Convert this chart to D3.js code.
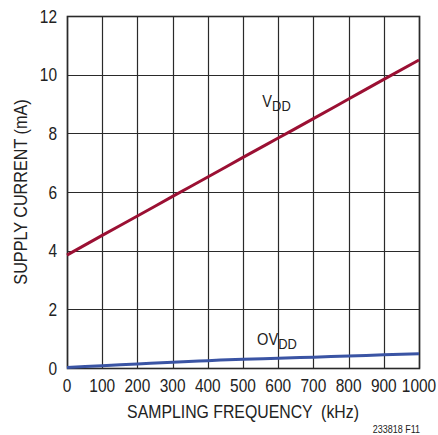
<!DOCTYPE html>
<html>
<head>
<meta charset="utf-8">
<script src="https://cdn.jsdelivr.net/npm/d3@7"></script>
<style>
  body { margin: 0; background: #fff; }
  text { font-family: "Liberation Sans", Arial, sans-serif; fill: #222; }
</style>
</head>
<body>
<div id="chart"></div>
<script>
// data
var freq = [0, 100, 200, 300, 400, 500, 600, 700, 800, 900, 1000];
var vdd = [3.85, 4.52, 5.18, 5.85, 6.51, 7.18, 7.84, 8.5, 9.17, 9.84, 10.5];
var ovdd = [0.02, 0.08, 0.14, 0.2, 0.25, 0.3, 0.33, 0.37, 0.41, 0.45, 0.49];
var xTicks = [0, 100, 200, 300, 400, 500, 600, 700, 800, 900, 1000];
var yTicks = [0, 2, 4, 6, 8, 10, 12];

var margin = {top: 16, right: 19, bottom: 67, left: 67},
    width = 438 - margin.left - margin.right,
    height = 435 - margin.top - margin.bottom;

// condensed look: regular font squeezed horizontally
var squeeze = 0.86;

var svg = d3.select("#chart")
  .append("svg")
    .attr("width", 438)
    .attr("height", 435);

var g = svg.append("g")
    .attr("transform", "translate(" + margin.left + "," + margin.top + ")");

var x = d3.scaleLinear().domain([0, 1000]).range([0, width]);
var y = d3.scaleLinear().domain([0, 12]).range([height, 0]);

// grid
g.selectAll("vgrid")
  .data(xTicks)
  .enter()
  .append("line")
    .attr("x1", function(d) { return Math.round(x(d)) + 0.5; })
    .attr("x2", function(d) { return Math.round(x(d)) + 0.5; })
    .attr("y1", 0)
    .attr("y2", height)
    .attr("stroke", "#2a2a2a")
    .attr("stroke-width", 1.2);

g.selectAll("hgrid")
  .data(yTicks)
  .enter()
  .append("line")
    .attr("x1", 0)
    .attr("x2", width)
    .attr("y1", function(d) { return Math.round(y(d)) + 0.5; })
    .attr("y2", function(d) { return Math.round(y(d)) + 0.5; })
    .attr("stroke", "#2a2a2a")
    .attr("stroke-width", 1.2);

// frame
g.append("rect")
  .attr("x", 0.5).attr("y", 0.5)
  .attr("width", width).attr("height", height)
  .attr("fill", "none")
  .attr("stroke", "#2a2a2a")
  .attr("stroke-width", 1.6);

// tick labels
g.selectAll("xlab")
  .data(xTicks)
  .enter()
  .append("text")
    .attr("transform", function(d) {
      return "translate(" + x(d) + "," + (height + 24) + ")scale(" + squeeze + ",1)";
    })
    .attr("text-anchor", "middle")
    .style("font-size", "18px")
    .text(function(d) { return d; });

g.selectAll("ylab")
  .data(yTicks)
  .enter()
  .append("text")
    .attr("transform", function(d) {
      return "translate(-10," + (y(d) + 6.5) + ")scale(" + squeeze + ",1)";
    })
    .attr("text-anchor", "end")
    .style("font-size", "18px")
    .text(function(d) { return d; });

// lines
var line = d3.line()
  .x(function(d) { return x(d[0]); })
  .y(function(d) { return y(d[1]); })
  .curve(d3.curveMonotoneX);

g.append("path")
  .datum(d3.zip(freq, vdd))
  .attr("d", line)
  .attr("fill", "none")
  .attr("stroke", "#9b1033")
  .attr("stroke-width", 3);

g.append("path")
  .datum(d3.zip(freq, ovdd))
  .attr("d", line)
  .attr("fill", "none")
  .attr("stroke", "#3a54a4")
  .attr("stroke-width", 3);

// series labels
var lv = g.append("text")
  .attr("transform", "translate(" + x(555) + "," + y(8.9) + ")scale(" + squeeze + ",1)")
  .style("font-size", "17px");
lv.append("tspan").text("V");
lv.append("tspan").attr("dy", 4).style("font-size", "15px").text("DD");

var lo = g.append("text")
  .attr("transform", "translate(" + x(540) + "," + y(0.8) + ")scale(" + squeeze + ",1)")
  .style("font-size", "17px");
lo.append("tspan").text("OV");
lo.append("tspan").attr("dy", 4).style("font-size", "15px").text("DD");

// axis titles
svg.append("text")
  .attr("transform", "translate(243,418)scale(0.88,1)")
  .attr("text-anchor", "middle")
  .style("font-size", "18px")
  .style("white-space", "pre")
  .text("SAMPLING FREQUENCY  (kHz)");

svg.append("text")
  .attr("transform", "translate(27,192)rotate(-90)scale(0.9,1)")
  .attr("text-anchor", "middle")
  .style("font-size", "18px")
  .text("SUPPLY CURRENT (mA)");

svg.append("text")
  .attr("transform", "translate(420,433)scale(0.9,1)")
  .attr("text-anchor", "end")
  .style("font-size", "10px")
  .text("233818 F11");
</script>
</body>
</html>
